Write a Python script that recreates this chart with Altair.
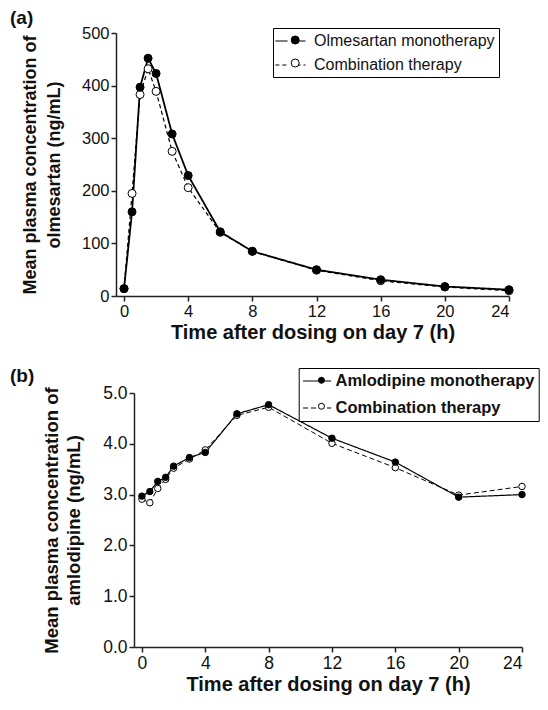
import altair as alt
import pandas as pd

# ---------------- data ----------------
time_h = [0, 0.5, 1, 1.5, 2, 3, 4, 6, 8, 12, 16, 20, 24]

olm_mono = [14, 160, 397, 452, 423, 308, 229, 122, 85, 50, 31, 18, 12]
olm_combo = [14, 195, 383, 432, 389, 275, 206, 121, 85, 49, 29, 17, 10]

aml_mono = [2.97, 3.06, 3.26, 3.34, 3.56, 3.73, 3.83, 4.59, 4.77, 4.11, 3.64, 2.95, 3.00]
aml_combo = [2.91, 2.84, 3.12, 3.30, 3.52, 3.70, 3.88, 4.56, 4.72, 4.01, 3.53, 2.99, 3.16]

olm_names = ["Olmesartan monotherapy", "Combination therapy"]
aml_names = ["Amlodipine monotherapy", "Combination therapy"]

x_ticks = [0, 4, 8, 12, 16, 20, 24]
olm_ticks = [0, 100, 200, 300, 400, 500]
aml_ticks = [0, 1, 2, 3, 4, 5]

FONT = "Liberation Sans"
INK = "#111111"


def long_df(mono, combo, names):
    rows = []
    for t, v in zip(time_h, combo):
        rows.append({"t": t, "c": v, "series": names[1]})
    for t, v in zip(time_h, mono):
        rows.append({"t": t, "c": v, "series": names[0]})
    df = pd.DataFrame(rows)
    # separate field for the marker legend (kept apart from the line legend)
    df["series_pt"] = df["series"] + " "
    return df


def panel(df, names, tag, y_title, y_dom, y_ticks, y_fmt, width, height,
          x_range, y_offset, lab_size, ytit_size, xtit_size, x_tpad, y_tpad, y_lh,
          lw, dash, pt_size, leg_x, leg_y, leg_path, leg_font, leg_weight,
          leg_rowpad, leg_loff, pt_dx, leg_pt, tag_dy):
    xs = dict(domain=[-0.5, 24], nice=False, zero=False)
    if x_range is not None:
        xs["range"] = x_range
    x = alt.X("t:Q", scale=alt.Scale(**xs),
              axis=alt.Axis(values=x_ticks, title="Time after dosing on day 7 (h)",
                            titlePadding=x_tpad, labelFontSize=lab_size,
                            titleFontSize=xtit_size))
    yax = dict(values=y_ticks, format=y_fmt, title=y_title, titlePadding=y_tpad,
               labelFontSize=lab_size, titleFontSize=ytit_size, titleLineHeight=y_lh)
    if y_offset:
        yax["offset"] = y_offset
    y = alt.Y("c:Q", scale=alt.Scale(domain=y_dom, nice=False), axis=alt.Axis(**yax))

    pt_names = [n + " " for n in names]
    base = alt.Chart(df)
    lines = base.mark_line(color="black").encode(
        x=x, y=y,
        strokeDash=alt.StrokeDash(
            "series:N",
            scale=alt.Scale(domain=names, range=[[1, 0], dash]),
            legend=alt.Legend(
                orient="none", legendX=leg_x, legendY=leg_y, title=None,
                symbolType=leg_path, symbolSize=256,
                symbolStrokeColor="black", symbolStrokeWidth=1.2,
                labelFont=FONT, labelFontSize=leg_font, labelFontWeight=leg_weight,
                labelColor=INK, labelLimit=400, labelOffset=leg_loff,
                strokeColor="black", padding=4, rowPadding=leg_rowpad,
            ),
        ),
        strokeWidth=alt.StrokeWidth(
            "series:N", scale=alt.Scale(domain=names, range=lw), legend=None
        ),
    )
    points = base.mark_point(shape="circle", filled=True, stroke="black",
                             strokeWidth=1, opacity=1, size=pt_size).encode(
        x=x, y=y,
        fill=alt.Fill(
            "series_pt:N",
            scale=alt.Scale(domain=pt_names, range=["black", "white"]),
            legend=alt.Legend(
                orient="none", legendX=leg_x + pt_dx, legendY=leg_y, title=None,
                symbolType="circle", symbolSize=leg_pt,
                symbolStrokeColor="black", symbolStrokeWidth=1,
                labelFont=FONT, labelFontSize=leg_font, labelExpr="''",
                labelLimit=400, labelOffset=0,
                padding=4, rowPadding=leg_rowpad,
            ),
        ),
    )
    return alt.layer(lines, points).resolve_legend(
        strokeDash="independent", fill="independent"
    ).properties(
        width=width, height=height,
        title=alt.TitleParams(text=tag, anchor="start", frame="group", dx=-106,
                              dy=tag_dy, font=FONT, fontSize=19, fontWeight="bold",
                              color=INK, offset=0),
    )


df_a = long_df(olm_mono, olm_combo, olm_names)
df_b = long_df(aml_mono, aml_combo, aml_names)

panel_a = panel(df_a, olm_names, "(a)",
                ["Mean plasma concentration of", "olmesartan (ng/mL)"],
                [0, 500], olm_ticks, "d", 393, 263, None, 0, 16.5, 18, 20, 3, 18, 24,
                [1.8, 1.2], [4, 3], 64,
                157, -5, "M-1.33,0H0.2M1.32,0H2.43", 16, "normal", 7, 19,
                10.2, 64, 2.5)

panel_b = panel(df_b, aml_names, "(b)",
                ["Mean plasma concentration of", "amlodipine (ng/mL)"],
                [0, 5], aml_ticks, ".1f", 406, 254, [18, 406], -18, 17.5, 18.5, 20, 3,
                19, 22,
                [1.2, 1.0], [5, 3], 42,
                182.7, -25, "M-1.08,0H2.43", 16.5, "bold", 9, 14.8,
                10.5, 36, 18)

chart = alt.vconcat(panel_a, panel_b, spacing=23).resolve_scale(
    strokeDash="independent", fill="independent", strokeWidth="independent"
).resolve_legend(
    strokeDash="independent", fill="independent"
).properties(
    padding={"left": 2, "top": 0, "right": 0, "bottom": 0}, background="white"
).configure_view(stroke=None).configure_axis(
    grid=False, domainColor="#222222", domainWidth=1.5, tickColor="#222222",
    tickWidth=1.5, tickSize=5, labelFont=FONT, labelFontSize=15, labelColor=INK,
    labelPadding=2, titleFont=FONT, titleFontSize=16, titleFontWeight="bold",
    titleColor=INK,
)

chart.save("out.html", embed_options={"renderer": "svg", "actions": False})
